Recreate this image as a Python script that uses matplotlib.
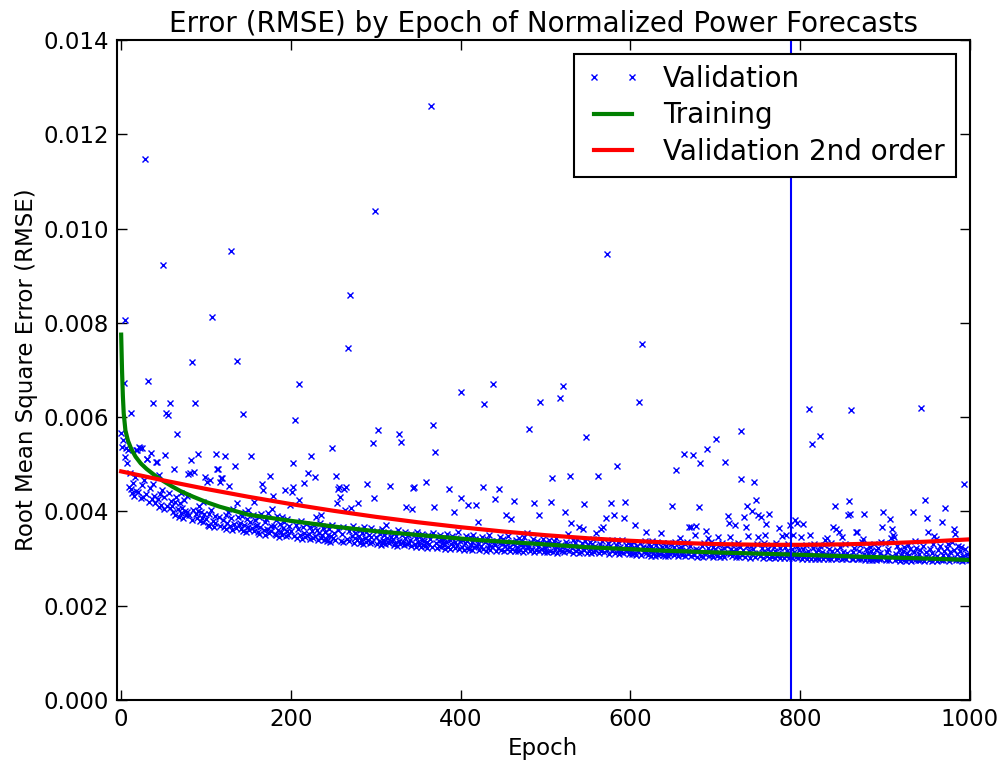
import numpy as np
import matplotlib
matplotlib.use("Agg")
import matplotlib.pyplot as plt
from matplotlib.ticker import FormatStrFormatter

# validation RMSE per epoch, in units of 1e-5 (20 epochs per row)
val_e5 = [
    567, 537, 551, 672, 516, 807, 534, 502, 531, 452, 481, 608, 447, 438, 461, 433, 472, 444, 531, 530,
    442, 537, 534, 428, 534, 455, 431, 466, 1147, 437, 512, 511, 677, 421, 449, 523, 426, 630, 458, 433,
    418, 505, 504, 427, 409, 478, 436, 414, 445, 923, 405, 431, 519, 608, 412, 604, 440, 407, 631, 423,
    412, 398, 489, 421, 393, 430, 565, 405, 389, 417, 440, 396, 408, 387, 425, 401, 392, 433, 398, 479,
    392, 481, 510, 381, 717, 404, 484, 631, 395, 386, 521, 401, 412, 379, 398, 385, 421, 377, 394, 473,
    384, 463, 372, 395, 368, 466, 402, 812, 379, 366, 391, 375, 522, 491, 490, 388, 463, 369, 470, 471,
    381, 367, 518, 392, 363, 376, 399, 454, 370, 952, 386, 361, 405, 374, 496, 365, 418, 720, 388, 372,
    376, 362, 390, 606, 359, 371, 398, 356, 383, 367, 402, 360, 378, 517, 365, 393, 420, 358, 381, 369,
    372, 357, 389, 353, 366, 394, 458, 445, 361, 378, 351, 384, 363, 397, 355, 476, 370, 359, 406, 432,
    368, 352, 381, 349, 391, 360, 346, 373, 356, 388, 350, 364, 377, 445, 348, 359, 383, 351, 369, 413,
    358, 441, 502, 452, 347, 594, 371, 343, 362, 670, 424, 351, 379, 341, 366, 355, 460, 345, 374, 349,
    482, 352, 367, 341, 517, 358, 344, 372, 473, 348, 389, 361, 339, 354, 376, 343, 393, 350, 365, 340,
    357, 342, 369, 338, 351, 363, 336, 347, 534, 372, 344, 355, 339, 476, 418, 448, 360, 451, 430, 337,
    352, 335, 366, 448, 403, 451, 341, 747, 358, 337, 858, 407, 348, 370, 334, 355, 343, 362, 339, 418,
    348, 333, 361, 340, 354, 331, 367, 344, 336, 357, 458, 339, 350, 332, 364, 345, 335, 546, 428, 1037,
    346, 331, 358, 572, 337, 352, 329, 363, 340, 333, 349, 330, 372, 343, 335, 356, 332, 454, 345, 338,
    342, 329, 355, 334, 347, 327, 360, 338, 565, 331, 548, 351, 336, 328, 344, 357, 410, 330, 349, 333,
    339, 326, 352, 405, 449, 451, 331, 344, 325, 357, 335, 328, 347, 324, 340, 353, 329, 337, 326, 463,
    336, 323, 349, 330, 342, 1261, 325, 355, 583, 410, 527, 332, 322, 346, 337, 327, 351, 324, 339, 333,
    328, 343, 321, 335, 352, 324, 447, 339, 320, 331, 347, 326, 399, 336, 322, 344, 329, 356, 321, 338,
    654, 428, 325, 340, 319, 333, 348, 322, 337, 413, 320, 345, 328, 318, 336, 351, 324, 341, 413, 327,
    331, 378, 318, 339, 326, 346, 320, 451, 627, 335, 317, 342, 323, 350, 329, 319, 337, 325, 671, 333,
    328, 426, 316, 338, 322, 447, 333, 345, 318, 330, 341, 315, 326, 336, 393, 320, 348, 324, 317, 335,
    383, 321, 330, 423, 315, 340, 324, 333, 316, 344, 319, 328, 337, 314, 326, 346, 318, 331, 355, 322,
    327, 575, 316, 335, 321, 342, 418, 313, 330, 319, 338, 324, 393, 315, 632, 333, 320, 341, 314, 329,
    322, 335, 313, 328, 340, 317, 420, 331, 470, 314, 337, 320, 326, 343, 312, 333, 318, 641, 329, 315,
    325, 667, 313, 399, 336, 318, 330, 353, 315, 475, 376, 322, 339, 312, 327, 334, 316, 341, 320, 311,
    367, 324, 313, 333, 362, 415, 319, 338, 558, 311, 328, 316, 335, 321, 311, 330, 342, 314, 326, 318,
    355, 322, 476, 311, 331, 362, 316, 337, 367, 313, 325, 385, 945, 319, 334, 310, 327, 418, 315, 340,
    320, 393, 312, 329, 497, 317, 336, 310, 324, 314, 339, 321, 311, 387, 420, 328, 315, 333, 309, 322,
    318, 330, 309, 323, 335, 312, 372, 308, 327, 316, 632, 320, 333, 307, 755, 325, 313, 337, 357, 311,
    322, 308, 331, 315, 306, 326, 338, 311, 319, 306, 329, 313, 335, 307, 321, 310, 354, 325, 308, 332,
    316, 306, 327, 312, 334, 305, 320, 309, 330, 412, 314, 307, 325, 336, 488, 311, 305, 322, 343, 316,
    324, 307, 313, 521, 331, 305, 318, 336, 309, 367, 326, 305, 366, 315, 519, 308, 351, 321, 370, 304,
    318, 409, 502, 306, 327, 313, 304, 333, 310, 359, 532, 344, 322, 305, 316, 335, 308, 324, 304, 312,
    320, 554, 306, 346, 314, 329, 304, 318, 334, 307, 323, 303, 504, 312, 327, 390, 376, 346, 309, 321,
    305, 316, 330, 372, 303, 320, 310, 334, 304, 325, 469, 570, 308, 318, 389, 303, 367, 327, 412, 348,
    315, 302, 327, 401, 309, 321, 462, 303, 424, 331, 346, 392, 312, 305, 389, 323, 302, 317, 334, 349,
    373, 306, 320, 394, 302, 314, 329, 304, 311, 325, 302, 317, 333, 305, 312, 365, 302, 322, 308, 348,
    310, 302, 325, 305, 351, 316, 330, 301, 372, 309, 321, 302, 349, 313, 382, 304, 375, 327, 301, 318,
    307, 345, 299, 374, 320, 303, 312, 328, 299, 316, 305, 618, 349, 300, 543, 322, 308, 331, 299, 314,
    302, 318, 299, 326, 560, 306, 313, 298, 329, 304, 340, 310, 343, 299, 321, 307, 333, 300, 315, 367,
    305, 412, 299, 363, 318, 301, 356, 325, 308, 346, 298, 314, 302, 331, 299, 311, 393, 306, 422, 394,
    615, 300, 313, 298, 322, 304, 357, 356, 298, 317, 302, 328, 299, 336, 342, 394, 309, 297, 320, 303,
    312, 297, 325, 301, 316, 296, 308, 330, 299, 319, 297, 304, 322, 298, 311, 336, 300, 366, 398, 305,
    332, 296, 314, 299, 321, 297, 383, 343, 306, 363, 349, 345, 296, 310, 326, 298, 303, 318, 295, 308,
    299, 316, 296, 324, 303, 295, 311, 329, 298, 307, 320, 295, 301, 398, 313, 338, 296, 322, 304, 296,
    310, 296, 318, 619, 300, 327, 295, 425, 305, 314, 386, 357, 297, 321, 302, 295, 312, 330, 348, 299,
    341, 306, 295, 319, 300, 326, 296, 378, 308, 296, 315, 408, 299, 323, 305, 331, 295, 313, 301, 335,
    298, 318, 363, 352, 296, 310, 327, 297, 304, 316, 325, 295, 306, 459, 299, 320, 296, 309, 302, 296,
]

# training RMSE (smooth curve) read at selected epochs
train_epochs = [0, 1, 2, 3, 5, 8, 12, 17, 23, 30, 40, 50, 60, 70, 85, 100, 116, 150, 200,
                250, 300, 350, 423, 500, 550, 635, 700, 800, 870, 950, 1000]
train_rmse = [0.00775, 0.00700, 0.00645, 0.00608, 0.00572, 0.00550, 0.00532, 0.00516,
              0.00502, 0.00490, 0.00476, 0.00464, 0.00453, 0.00443, 0.00431, 0.00420,
              0.00410, 0.00393, 0.00380, 0.00368, 0.00358, 0.00350, 0.00339, 0.00330,
              0.00324, 0.00317, 0.00313, 0.00308, 0.00304, 0.00300, 0.00297]

# second-order fit of validation, read every 50 epochs
fit_epochs = [0, 50, 100, 150, 200, 250, 300, 350, 400, 450, 500,
              550, 600, 650, 700, 750, 800, 850, 900, 950, 1000]
fit_rmse = [0.004849, 0.004657, 0.004477, 0.004310, 0.004156, 0.004014, 0.003885,
            0.003769, 0.003665, 0.003574, 0.003496, 0.003430, 0.003377, 0.003336,
            0.003308, 0.003293, 0.003291, 0.003301, 0.003323, 0.003359, 0.003407]

best_epoch = 789

val_epochs = np.arange(len(val_e5))
val_rmse = np.array(val_e5) * 1e-5

fig = plt.figure(figsize=(10.08, 7.63), dpi=100)
ax = fig.add_axes([0.116, 0.0826, 0.846, 0.8650])

ax.plot(val_epochs, val_rmse, ls="none", marker="x", color="b", ms=5, mew=1.0,
        label="Validation")
ax.plot(train_epochs, train_rmse, color="g", lw=3, label="Training")
ax.plot(fit_epochs, fit_rmse, color="r", lw=3, label="Validation 2nd order")
ax.axvline(best_epoch, color="b", lw=1.5)

ax.set_xlim(-5, 1000)
ax.set_ylim(0, 0.014)
ax.set_xticks(range(0, 1001, 200))
ax.set_yticks(np.arange(0, 0.0141, 0.002))
ax.yaxis.set_major_formatter(FormatStrFormatter("%.3f"))
ax.tick_params(direction="in", top=True, right=True, length=7, width=1, labelsize=16.5, pad=6)
for s in ax.spines.values():
    s.set_linewidth(1.5)

ax.set_title("Error (RMSE) by Epoch of Normalized Power Forecasts", fontsize=20)
ax.set_xlabel("Epoch", fontsize=16.5)
ax.set_ylabel("Root Mean Square Error (RMSE)", fontsize=16.5)

leg = ax.legend(loc="upper right", numpoints=2, fontsize=20, fancybox=False,
                framealpha=1, edgecolor="k", handlelength=2.0, borderaxespad=0.5,
                labelspacing=0.3)
leg.get_frame().set_linewidth(1.5)

fig.savefig("out.png", dpi=100)
